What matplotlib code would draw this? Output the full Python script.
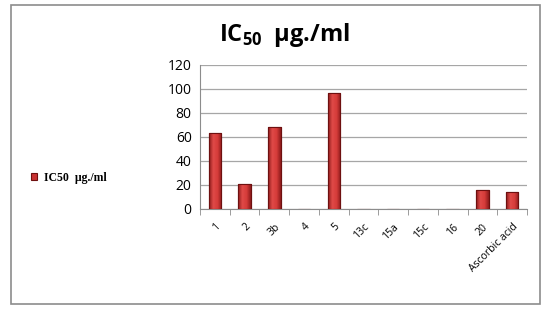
import matplotlib
matplotlib.use("Agg")
import matplotlib.pyplot as plt
import numpy as np
from matplotlib.patches import Rectangle
from matplotlib.colors import LinearSegmentedColormap

# compounds and their IC50 values (ug/ml)
compounds = ['1', '2', '3b', '4', '5', '13c', '15a', '15c', '16', '20', 'Ascorbic acid']
ic50 = [63, 21, 68, 0, 97, 0, 0, 0, 0, 16, 14]
y_ticks = [0, 20, 40, 60, 80, 100, 120]

plt.rcParams['font.family'] = ['Open Sans', 'DejaVu Sans']
plt.rcParams['mathtext.fontset'] = 'custom'
plt.rcParams['mathtext.bf'] = 'Open Sans:bold'

fig = plt.figure(figsize=(5.53, 3.15), dpi=100)

# outer frame of the chart area
frame = Rectangle((11 / 553, 1 - 304 / 315), (540 - 11) / 553, (304 - 5) / 315,
                  transform=fig.transFigure, fill=False, edgecolor='#8c8c8c', lw=1.2)
fig.patches.append(frame)

ax = fig.add_axes([200 / 553, 1 - 209 / 315, 327 / 553, 144 / 315])

x = np.arange(len(compounds))
bars = ax.bar(x, ic50, width=0.42, color='#c83232', edgecolor='#6e1010',
              linewidth=0.8, zorder=3, label='IC50  µg./ml')

# horizontal gradient to mimic the shaded bars
cmap = LinearSegmentedColormap.from_list('bar', ['#8e1b1b', '#e04a48', '#d63c3a', '#8e1b1b'])
grad = np.linspace(0, 1, 64).reshape(1, -1)
for b in bars:
    h = b.get_height()
    if h <= 0:
        continue
    x0 = b.get_x()
    im = ax.imshow(grad, cmap=cmap, aspect='auto', zorder=3.5,
                   extent=(x0, x0 + b.get_width(), 0, h))
    im.set_clip_path(b)
    ax.add_patch(Rectangle((x0, 0), b.get_width(), h, fill=False,
                           edgecolor='#6e1010', lw=0.8, zorder=4))

ax.set_xlim(-0.5, len(compounds) - 0.5)
ax.set_ylim(0, 120)
ax.set_yticks(y_ticks)
ax.set_yticklabels([str(v) for v in y_ticks], fontsize=10)
ax.yaxis.grid(True, color='#a6a6a6', lw=0.9, zorder=0)
ax.set_axisbelow(True)

ax.set_xticks(x)
ax.set_xticklabels(compounds, rotation=45, ha='right', rotation_mode='anchor', fontsize=7.5)
ax.set_xticks(np.arange(-0.5, len(compounds)), minor=True)
ax.tick_params(axis='x', which='major', length=0, pad=9)
ax.tick_params(axis='x', which='minor', length=4, color='#8c8c8c')
ax.tick_params(axis='y', length=0, pad=6)

for s in ['top', 'right']:
    ax.spines[s].set_visible(False)
ax.spines['left'].set_color('#8c8c8c')
ax.spines['bottom'].set_color('#8c8c8c')

fig.text(285 / 553, 1 - 35 / 315, r'IC$_{\mathbf{50}}$  µg./ml', ha='center', va='center',
         fontsize=17, fontweight='bold')

handles, labels = ax.get_legend_handles_labels()
fig.legend(handles, labels, loc='center left', bbox_to_anchor=(20 / 553, 1 - 178 / 315),
           frameon=False, handlelength=0.55, handleheight=0.55, handletextpad=0.6,
           prop={'family': ['Liberation Serif', 'DejaVu Serif'], 'weight': 'bold', 'size': 8.5})

fig.savefig('out.png', dpi=100)
